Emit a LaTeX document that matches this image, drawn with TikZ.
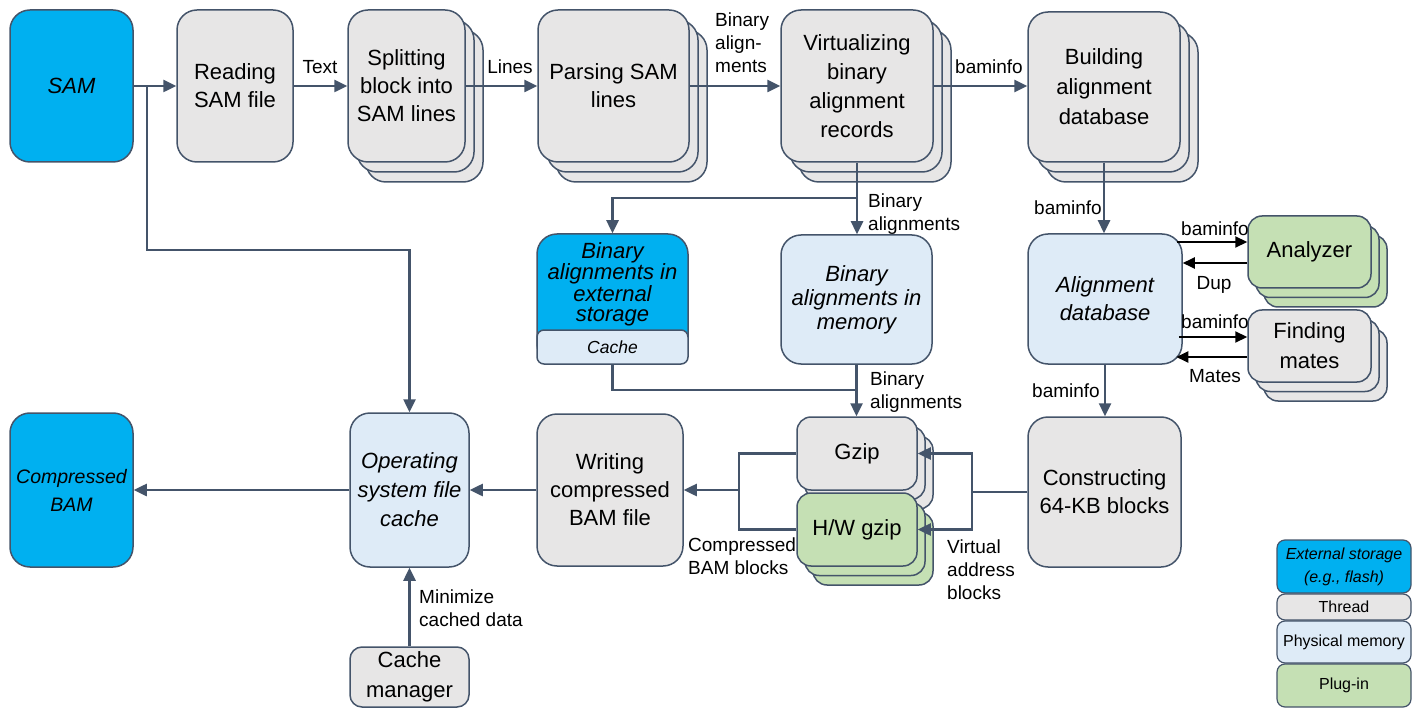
\documentclass[tikz,border=0pt]{standalone}
\usepackage{fontspec}
\setmainfont{Liberation Sans}
\usetikzlibrary{arrows.meta,shadows}
\definecolor{stblue}{HTML}{00B0F0}
\definecolor{thr}{HTML}{E7E6E6}
\definecolor{phys}{HTML}{DEEBF7}
\definecolor{plug}{HTML}{C5E0B4}
\definecolor{edge}{HTML}{44546A}
\begin{document}
\begin{tikzpicture}[x=1pt,y=-1pt,
  box/.style={draw=edge,line width=1.5pt,rounded corners=20pt,inner sep=0pt,align=center,
    font=\fontsize{22}{28}\selectfont},
  storebox/.style={box,fill=stblue,font=\fontsize{22}{28}\selectfont\itshape},
  threadbox/.style={box,fill=thr},
  membox/.style={box,fill=phys,font=\fontsize{22}{28}\selectfont\itshape},
  plugbox/.style={box,fill=plug},
  bigstack/.style={copy shadow={shadow xshift=18pt,shadow yshift=-20pt,fill=#1,draw=edge,line width=1.5pt},
                   copy shadow={shadow xshift=9pt,shadow yshift=-10pt,fill=#1,draw=edge,line width=1.5pt}},
  smallstack/.style={copy shadow={shadow xshift=16pt,shadow yshift=-19pt,fill=#1,draw=edge,line width=1.5pt},
                   copy shadow={shadow xshift=8pt,shadow yshift=-9.5pt,fill=#1,draw=edge,line width=1.5pt}},
  arr/.style={draw=edge,line width=2.5pt,-{Triangle[length=13pt,width=12pt]}},
  ln/.style={draw=edge,line width=2.5pt},
  barr/.style={draw=black,line width=2pt,-{Triangle[length=12pt,width=11pt]}},
  lbl/.style={inner sep=0pt,align=left,font=\fontsize{19}{23}\selectfont},
  legbox/.style={draw=edge,line width=1.2pt,rounded corners=8pt,inner sep=0pt,align=center,
    minimum width=134pt,font=\fontsize{16}{23}\selectfont},
]
\useasboundingbox (0,0) rectangle (1423,708);

% top row
\node[storebox,minimum width=123pt,minimum height=152pt] (sam) at (71.5,86) {SAM};
\node[threadbox,minimum width=116pt,minimum height=152pt] (read) at (235,86) {Reading\\SAM file};
\node[threadbox,bigstack=thr,minimum width=117pt,minimum height=152pt] (split) at (406.5,86) {Splitting\\block into\\SAM lines};
\node[threadbox,bigstack=thr,minimum width=151pt,minimum height=152pt] (parse) at (613.5,86) {Parsing SAM\\lines};
\node[threadbox,bigstack=thr,minimum width=152pt,minimum height=152pt,font=\fontsize{22}{29}\selectfont] (virt) at (857,86) {Virtualizing\\binary\\alignment\\records};
\node[threadbox,bigstack=thr,minimum width=152pt,minimum height=150pt,font=\fontsize{22}{30}\selectfont] (build) at (1104,87) {Building\\alignment\\database};

% middle row
\node[storebox,minimum width=151pt,minimum height=130pt,
  label={[inner sep=0pt,align=center,font=\fontsize{22}{20}\selectfont\itshape,yshift=15pt]center:{Binary\\alignments in\\external\\storage}}] (ext) at (612.5,299) {};
\node[membox,rounded corners=7pt,minimum width=151pt,minimum height=34pt,font=\fontsize{17.5}{20}\selectfont\itshape] (cache) at (612.5,347) {Cache};
\node[membox,minimum width=151pt,minimum height=129pt,font=\fontsize{22}{24}\selectfont\itshape] (mem) at (856.5,299.5) {Binary\\alignments in\\memory};
\node[membox,minimum width=154pt,minimum height=130pt] (adb) at (1105,299) {Alignment\\database};
\node[plugbox,rounded corners=14pt,smallstack=plug,minimum width=123pt,minimum height=72pt] (anal) at (1309.5,252) {Analyzer};
\node[threadbox,rounded corners=14pt,smallstack=thr,minimum width=123pt,minimum height=72pt,font=\fontsize{22}{30}\selectfont] (find) at (1309.5,346) {Finding\\mates};

% bottom row
\node[threadbox,minimum width=153pt,minimum height=150pt] (cons) at (1104.5,492) {Constructing\\64-KB blocks};
\node[threadbox,rounded corners=14pt,smallstack=thr,minimum width=120pt,minimum height=73pt] (gzip) at (857,453.5) {Gzip};
\node[plugbox,rounded corners=14pt,smallstack=plug,minimum width=120pt,minimum height=73pt] (hw) at (857,529.5) {H/W gzip};
\node[threadbox,minimum width=146pt,minimum height=152pt] (write) at (610,490) {Writing\\compressed\\BAM file};
\node[membox,minimum width=119pt,minimum height=154pt,font=\fontsize{22}{29}\selectfont\itshape] (os) at (409.5,490) {Operating\\system file\\cache};
\node[storebox,minimum width=123pt,minimum height=154pt,font=\fontsize{19.5}{28}\selectfont\itshape] (cbam) at (71.5,490) {Compressed\\BAM};
\node[threadbox,rounded corners=12pt,minimum width=119pt,minimum height=60pt,font=\fontsize{22}{30}\selectfont] (cman) at (409.5,677) {Cache\\manager};

% legend
\node[legbox,fill=stblue,minimum height=53pt,font=\fontsize{16}{23}\selectfont\itshape] (lext) at (1344,566.5) {External storage\\(e.g., flash)};
\node[legbox,fill=thr,minimum height=26pt] (lthr) at (1344,607) {Thread};
\node[legbox,fill=phys,minimum height=42pt] (lphys) at (1344,642) {Physical memory};
\node[legbox,fill=plug,minimum height=43pt] (lplug) at (1344,685.5) {Plug-in};

% connectors top
\coordinate (j1) at (147,86);
\coordinate (j2) at (147,250);
\draw[arr] (sam.east) -- (read.west);
\draw[arr] (j1) -- (j2) -| (os.north);
\draw[arr] (read.east) -- (split.west);
\draw[arr] (split.east) -- (parse.west);
\draw[arr] (parse.east) -- (virt.west);
\draw[arr] (virt.east) -- (virt.east -| build.west);
\coordinate (j3) at (857,198);
\draw[arr] (virt.south) -- (virt.south |- mem.north);
\draw[arr] (j3) -| (ext.north);
\draw[arr] (build.south) -- (build.south |- adb.north);

% alignment database side arrows
\path (anal.west) ++(0,-10) coordinate (aIn);
\path (anal.west) ++(0,11) coordinate (aOut);
\path (find.west) ++(0,-9) coordinate (fIn);
\path (find.west) ++(0,11) coordinate (fOut);
\draw[barr] (aIn -| adb.east) ++(-6,0) -- (aIn);
\draw[barr] (aOut) -- (aOut -| adb.east);
\draw[barr] (fIn -| adb.east) ++(-4,0) -- (fIn);
\draw[barr] (fOut) -- ++(-71,0);
\draw[arr] (adb.south) -- (adb.south |- cons.north);

% gzip section
\coordinate (vR) at (972,492);
\coordinate (vL) at (739,490);
\draw[ln] (cons.west) -- (vR);
\draw[arr] (vR) |- (gzip.east);
\draw[arr] (vR) |- (hw.east);
\draw[ln] (gzip.west) -| (vL);
\draw[ln] (hw.west) -| (vL);
\draw[arr] (vL) -- (vL -| write.east);
\draw[arr] (mem.south) -- (mem.south |- gzip.north);
\coordinate (j4) at (856.5,390);
\draw[ln] (cache.south) |- (j4);
\draw[arr] (write.west) -- (os.east);
\draw[arr] (os.west) -- (cbam.east);
\draw[arr] (cman.north) -- (os.south);

% labels
\node[lbl,anchor=base] (tText) at (320,74) {Text};
\node[lbl,anchor=base] (tLines) at (510,74) {Lines};
\node[lbl,anchor=north west] (tBin1) at (715,13) {Binary\\align-\\ments};
\node[lbl,anchor=base] (tBam1) at (989,74) {baminfo};
\node[lbl,anchor=north west] (tBin2) at (868,194) {Binary\\alignments};
\node[lbl,anchor=base] (tBam2) at (1068,215) {baminfo};
\node[lbl,anchor=base] (tBam3) at (1215,236) {baminfo};
\node[lbl,anchor=base] (tDup) at (1214,290) {Dup};
\node[lbl,anchor=base] (tBam4) at (1215,329) {baminfo};
\node[lbl,anchor=base] (tMates) at (1215,382) {Mates};
\node[lbl,anchor=base] (tBam5) at (1066,397) {baminfo};
\node[lbl,anchor=north west] (tBin3) at (870,372) {Binary\\alignments};
\node[lbl,anchor=north west] (tComp) at (688,538) {Compressed\\BAM blocks};
\node[lbl,anchor=north west] (tVirt) at (947,540) {Virtual\\address\\blocks};
\node[lbl,anchor=north west] (tMin) at (419,590) {Minimize\\cached data};
\end{tikzpicture}
\end{document}
